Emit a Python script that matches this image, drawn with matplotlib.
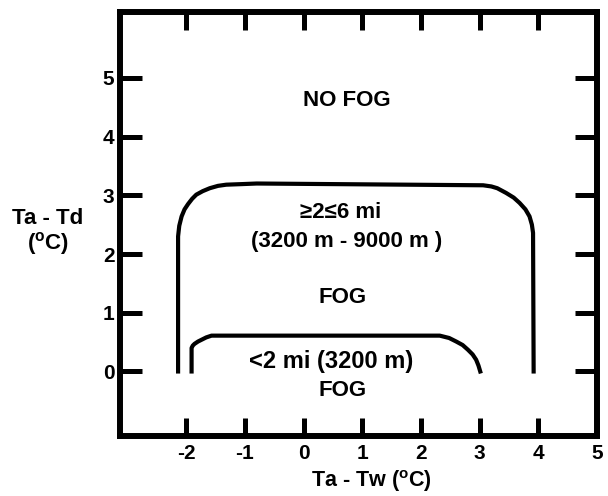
import numpy as np
import matplotlib
matplotlib.use('Agg')
import matplotlib.pyplot as plt

#Fonts: bold Helvetica-like everywhere
matplotlib.rcParams.update({'font.family': ['Liberation Sans', 'DejaVu Sans'],
                            'font.weight': 'bold',
                            'mathtext.fontset': 'custom',
                            'mathtext.rm': 'Liberation Sans:bold',
                            'mathtext.bf': 'Liberation Sans:bold',
                            'mathtext.it': 'Liberation Sans:bold'})

#Boundary of the 2-6 mi fog region
outer_x = [-2.14, -2.14, -2.12, -2.08, -2.03, -1.97, -1.90, -1.83, -1.72, -1.60,
           -1.46, -1.32, -1.05, -0.80, 3.06, 3.20, 3.30, 3.45, 3.58, 3.68, 3.78,
           3.85, 3.89, 3.91, 3.92]
outer_y = [0.0, 2.30, 2.48, 2.64, 2.76, 2.85, 2.94, 3.01, 3.07, 3.12,
           3.16, 3.18, 3.19, 3.20, 3.17, 3.15, 3.12, 3.04, 2.96, 2.87, 2.76,
           2.64, 2.50, 2.36, 0.0]

#Boundary of the <2 mi fog region
inner_x = [-1.91, -1.91, -1.89, -1.86, -1.80, -1.74, -1.66, -1.57, 2.32, 2.48,
           2.60, 2.71, 2.80, 2.88, 2.94, 2.98, 3.01]
inner_y = [0.0, 0.40, 0.44, 0.47, 0.51, 0.54, 0.58, 0.61, 0.61, 0.57,
           0.51, 0.45, 0.37, 0.29, 0.20, 0.10, 0.0]

#Region labels: text, x, y (baseline)
labels = ['NO FOG', '\u22652\u22646 mi', '(3200 m - 9000 m )', 'FOG',
          '<2 mi (3200 m)', 'FOG']
label_x = [0.73, 0.63, 0.74, 0.67, 0.47, 0.67]
label_y = [4.52, 2.62, 2.12, 1.16, 0.06, -0.42]
label_size = [16, 16, 16, 16, 17, 16]

xticks = [-2, -1, 0, 1, 2, 3, 4, 5]
yticks = [0, 1, 2, 3, 4, 5]

fig = plt.figure(figsize=(6.08, 4.96), dpi=100)
ax = fig.add_axes([120/608, 1 - 435.5/496, 477/608, 423.5/496])

ax.plot(outer_x, outer_y, color='black', lw=3.0, solid_joinstyle='round')
ax.plot(inner_x, inner_y, color='black', lw=3.0, solid_joinstyle='round')

for s, x, y, fs in zip(labels, label_x, label_y, label_size):
    ax.text(x, y, s, ha='center', va='baseline', fontsize=fs, fontweight='bold')

ax.set_xlim(-3.13, 5.0)
ax.set_ylim(-1.09, 6.12)
ax.set_xticks(xticks)
ax.set_yticks(yticks)
ax.set_xticklabels([str(t) for t in xticks], fontsize=15, fontweight='bold')
ax.set_yticklabels([str(t) for t in yticks], fontsize=15, fontweight='bold')
ax.tick_params(axis='x', direction='in', length=13, width=3.6, pad=6,
               top=True, bottom=True)
ax.tick_params(axis='y', direction='in', length=16, width=3.6, pad=4,
               left=True, right=True)
for sp in ax.spines.values():
    sp.set_linewidth(4.3)

ax.set_xlabel(r'Ta - Tw ($^{\rm o}$C)', fontsize=15.5, fontweight='bold')
ax.xaxis.set_label_coords(0.528, -0.107)
ax.xaxis.label.set_va('center')
ax.set_ylabel('Ta - Td\n' + r'($^{\rm o}$C)', fontsize=16, fontweight='bold',
              rotation=0, ha='center', va='center', linespacing=1.05)
ax.yaxis.set_label_coords(-0.151, 0.48)

plt.savefig('out.png', dpi=100)
